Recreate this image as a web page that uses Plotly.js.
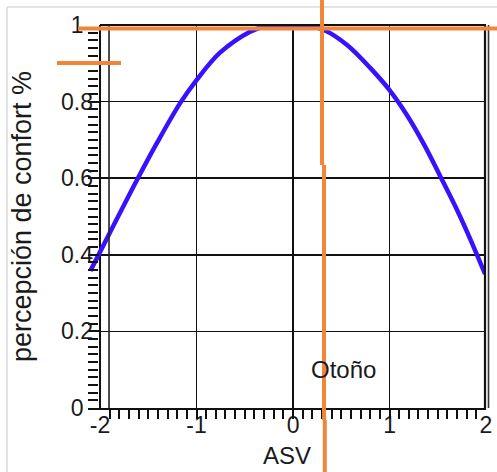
<!DOCTYPE html>
<html>
<head>
<meta charset="utf-8">
<script src="https://cdn.plot.ly/plotly-3.0.1.min.js"></script>
<style>html,body{margin:0;padding:0;background:#fff;}#chart{width:497px;height:472px;}</style>
</head>
<body>
<div id="chart"></div>
<script>
// Data
const asv = [-2.10, -1.90, -1.62, -1.41, -1.17, -1.00, -0.76, -0.45, -0.27, -0.03, 0.15, 0.32, 0.56, 0.80, 1.00, 1.18, 1.36, 1.52, 1.70, 1.83, 1.99];
const confort = [0.358, 0.457, 0.594, 0.692, 0.796, 0.856, 0.927, 0.982, 0.998, 1.0, 0.998, 0.987, 0.948, 0.888, 0.830, 0.765, 0.687, 0.608, 0.517, 0.445, 0.350];
const xTicks = [-2, -1, 0, 1, 2];
const xTickLabels = ['-2', '-1', '0', '1', '2'];
const yTicks = [0, 0.2, 0.4, 0.6, 0.8, 1];
const yTickLabels = ['0\u2005\u2006', '0.2', '0.4', '0.6', '0.8', '1\u2005\u2006'];
const seasonLabel = 'Otoño';
const xTitle = 'ASV';
const yTitle = 'percepción de confort %';

const FONT = 'Arial, "Liberation Sans", sans-serif';
const ORANGE = '#f0863a';

function line(x0, y0, x1, y1, color, width) {
  return {type: 'line', xref: 'paper', yref: 'paper', x0: x0, y0: y0, x1: x1, y1: y1,
          line: {color: color, width: width}, layer: 'above'};
}

const shapes = [
  // light outer frame
  line(-0.2035, 1.047, 1.03, 1.047, '#c8c8c8', 1),
  line(-0.2035, 1.047, -0.2035, -0.17, '#c8c8c8', 1),
  // plot box
  line(0.030, 1, 1.0, 1, '#111', 2.2),
  line(0.0528, 0, 0.0528, 1, '#222', 1.6),
  line(0.9975, 0, 0.9975, 1, '#111', 2.2),
  line(1.0063, 0, 1.0063, 1, '#333', 1.6),
  // orange overlay marks
  line(-0.0251, 0.9909, 1.03, 0.9909, ORANGE, 4),
  line(-0.0779, 0.9008, 0.0829, 0.9008, ORANGE, 4),
  line(0.588, 1.07, 0.588, 0.6345, ORANGE, 4),
  line(0.593, 0.6345, 0.593, -0.0313, ORANGE, 4),
  line(0.595, -0.0313, 0.595, -0.17, ORANGE, 4)
];

// small ticks every 0.1 along the ASV axis (integers included, ends excluded)
const minorX = [];
for (let i = -19; i <= 19; i++) { minorX.push(i / 10); }

const trace = {
  x: asv, y: confort, type: 'scatter', mode: 'lines',
  line: {color: '#3a10ff', width: 4.5, shape: 'spline', smoothing: 1},
  hoverinfo: 'skip'
};

const layout = {
  width: 497, height: 472,
  margin: {l: 88, r: 11, t: 25, b: 64, pad: 0},
  paper_bgcolor: '#fff', plot_bgcolor: '#fff',
  showlegend: false,
  font: {family: FONT, color: '#1a1a1a'},
  xaxis: {
    range: [-2.125, 2.0], fixedrange: true,
    tickmode: 'array', tickvals: xTicks, ticktext: xTickLabels,
    ticks: '',
    ticklabelstandoff: -5,
    tickfont: {size: 23, family: FONT, color: '#1a1a1a'},
    showline: true, linecolor: '#111', linewidth: 2.2,
    showgrid: true, gridcolor: '#111', gridwidth: 1.6,
    zeroline: false,
    title: {text: xTitle, font: {size: 24, family: FONT, color: '#1a1a1a'}, standoff: 11},
    automargin: false
  },
  xaxis2: {
    overlaying: 'x', matches: 'x', anchor: 'y', side: 'bottom',
    range: [-2.125, 2.0], fixedrange: true,
    tickmode: 'array', tickvals: minorX, showticklabels: false,
    ticks: 'outside', ticklen: 10, tickwidth: 2, tickcolor: '#111',
    showline: false, showgrid: false, zeroline: false, automargin: false
  },
  yaxis: {
    range: [0, 1], fixedrange: true,
    tickmode: 'array', tickvals: yTicks, ticktext: yTickLabels,
    ticks: 'inside', ticklen: 11, tickwidth: 2, tickcolor: '#111',
    ticklabelstandoff: -6,
    tickfont: {size: 23, family: FONT, color: '#1a1a1a'},
    showline: false,
    showgrid: true, gridcolor: '#111', gridwidth: 1.6,
    zeroline: false,
    minor: {dtick: 0.02, tick0: 0, ticks: 'inside', ticklen: 10, tickwidth: 2, tickcolor: '#111', showgrid: false},
    title: {text: yTitle, font: {size: 27, family: FONT, color: '#1a1a1a'}, standoff: 21},
    automargin: false
  },
  shapes: shapes,
  annotations: [{
    text: seasonLabel, xref: 'x', yref: 'y', x: 0.52, y: 0.10,
    showarrow: false, font: {size: 24, family: FONT, color: '#1a1a1a'},
    xanchor: 'center', yanchor: 'middle'
  }]
};

Plotly.newPlot('chart', [trace, {x: [], y: [], xaxis: 'x2', yaxis: 'y', type: 'scatter', hoverinfo: 'skip'}], layout, {staticPlot: true, displayModeBar: false});
</script>
</body>
</html>
